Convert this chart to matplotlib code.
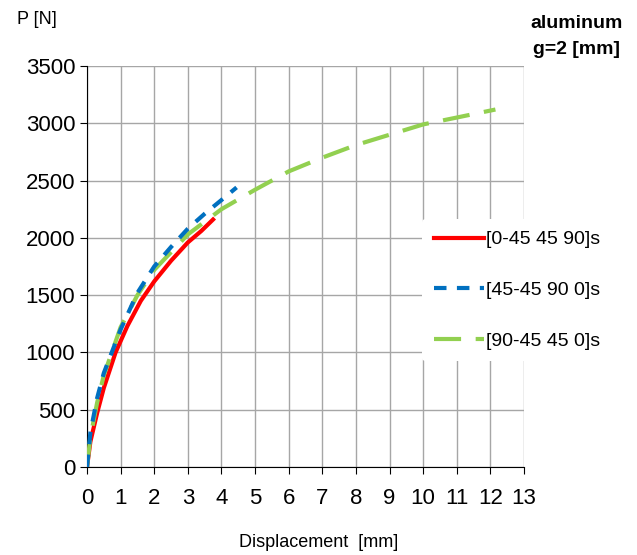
import numpy as np
import matplotlib.pyplot as plt

# Data
red_x = [0, 0.1, 0.3, 0.5, 0.85, 1.2, 1.6, 2.0, 2.5, 3.0, 3.4, 3.75]
red_y = [0, 220, 470, 690, 1000, 1230, 1450, 1620, 1800, 1960, 2060, 2160]

blue_x = [0, 0.1, 0.3, 0.5, 1.0, 1.5, 2.0, 2.5, 3.0, 3.5, 4.0, 4.45]
blue_y = [0, 300, 600, 820, 1200, 1520, 1750, 1920, 2080, 2210, 2330, 2440]

green_x = [0, 0.1, 0.3, 0.5, 1.0, 1.5, 2.0, 3.0, 4.0, 5.0, 6.0, 7.0, 8.0, 9.0, 10.0, 11.0, 12.15]
green_y = [0, 260, 560, 800, 1220, 1500, 1720, 2030, 2250, 2420, 2580, 2700, 2810, 2900, 2990, 3050, 3120]

labels = ["[0-45 45 90]s", "[45-45 90 0]s", "[90-45 45 0]s"]
colors = ["#ff0000", "#0070c0", "#92d050"]

xticks = np.arange(0, 14)
yticks = np.arange(0, 3501, 500)

plt.rcParams['font.family'] = ['Liberation Sans', 'DejaVu Sans']

fig = plt.figure(figsize=(6.37, 5.55), dpi=100)
ax = fig.add_axes([0.1366, 0.1586, 0.686, 0.7225])

ax.plot(red_x, red_y, color=colors[0], lw=3, label=labels[0], zorder=3)
ax.plot(blue_x, blue_y, color=colors[1], lw=3, ls=(0, (3, 2.5)), label=labels[1], zorder=4)
ax.plot(green_x, green_y, color=colors[2], lw=3, ls=(0, (6.5, 3.5)), label=labels[2], zorder=3)

ax.set_xlim(0, 13)
ax.set_ylim(0, 3500)
ax.set_xticks(xticks)
ax.set_yticks(yticks)
ax.grid(True, color="#a6a6a6", lw=1)
ax.set_axisbelow(True)
for s in ["top", "right"]:
    ax.spines[s].set_visible(False)
for s in ["left", "bottom"]:
    ax.spines[s].set_color("black")
ax.tick_params(axis="both", labelsize=16, length=5, color="black", direction="out")
ax.tick_params(axis="x", pad=10)

fig.text(0.027, 0.965, "P [N]", fontsize=13, va="center", ha="left")
fig.text(0.5, 0.022, "Displacement  [mm]", fontsize=13, ha="center", va="center")
fig.text(0.905, 0.935, "aluminum\ng=2 [mm]", fontsize=14, fontweight="bold",
         ha="center", va="center", linespacing=1.7)

leg = ax.legend(loc="center left", bbox_to_anchor=(0.648, 0.477), bbox_transform=fig.transFigure,
                fontsize=14, frameon=True, facecolor="white", edgecolor="none", framealpha=1,
                handlelength=2.55, handletextpad=0.1, labelspacing=1.7, borderpad=0.6)

fig.savefig("out.png", dpi=100)
